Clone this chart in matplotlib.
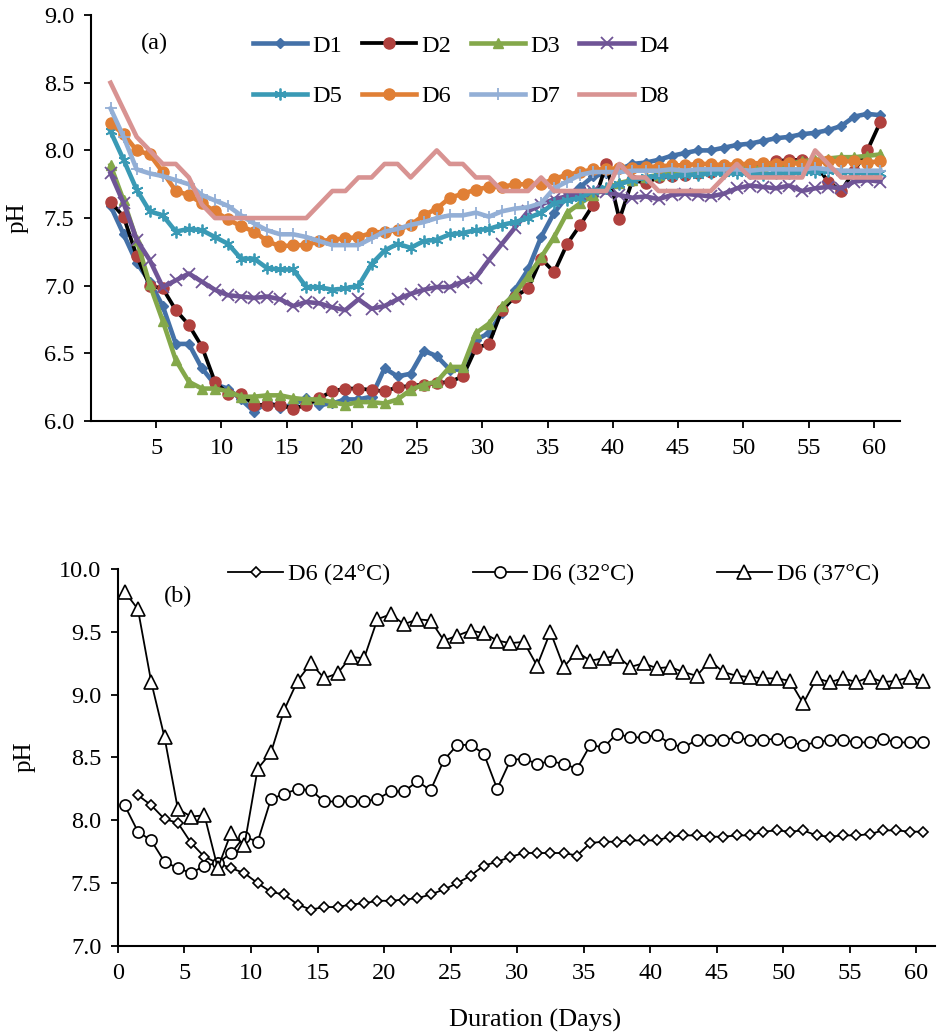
import numpy as np
import matplotlib
matplotlib.use('Agg')
import matplotlib.pyplot as plt

plt.rcParams['font.family'] = ['Liberation Serif', 'DejaVu Serif']

# ---- panel (a): pH of digesters D1..D8, days 1..60 ----
days_a = np.arange(1, 61)

d1 = [7.59, 7.38, 7.17, 7.03, 6.85, 6.57, 6.57, 6.39, 6.27, 6.24,
      6.16, 6.07, 6.14, 6.10, 6.12, 6.17, 6.12, 6.13, 6.16, 6.16,
      6.18, 6.39, 6.33, 6.35, 6.52, 6.48, 6.38, 6.38, 6.60, 6.65,
      6.80, 6.97, 7.12, 7.36, 7.54, 7.66, 7.73, 7.81, 7.83, 7.86,
      7.90, 7.91, 7.93, 7.96, 7.98, 8.00, 8.00, 8.02, 8.04, 8.05,
      8.07, 8.09, 8.10, 8.12, 8.13, 8.15, 8.18, 8.25, 8.27, 8.26]
d2 = [7.62, 7.51, 7.22, 7.00, 6.98, 6.82, 6.71, 6.55, 6.29, 6.20,
      6.20, 6.12, 6.12, 6.12, 6.09, 6.12, 6.17, 6.22, 6.24, 6.24,
      6.23, 6.22, 6.25, 6.26, 6.27, 6.28, 6.29, 6.33, 6.54, 6.57,
      6.82, 6.92, 6.98, 7.20, 7.10, 7.31, 7.45, 7.60, 7.90, 7.49,
      7.78, 7.76, 7.80, 7.81, 7.82, 7.83, 7.84, 7.85, 7.86, 7.87,
      7.88, 7.92, 7.93, 7.93, 7.90, 7.77, 7.70, 7.85, 8.00, 8.21]
d3 = [7.89, 7.63, 7.34, 7.01, 6.74, 6.45, 6.29, 6.24, 6.24, 6.22,
      6.18, 6.18, 6.19, 6.19, 6.17, 6.16, 6.16, 6.14, 6.12, 6.14,
      6.14, 6.13, 6.16, 6.23, 6.27, 6.29, 6.40, 6.40, 6.65, 6.72,
      6.85, 6.94, 7.07, 7.21, 7.36, 7.54, 7.61, 7.67, 7.72, 7.76,
      7.78, 7.80, 7.82, 7.84, 7.85, 7.85, 7.86, 7.86, 7.86, 7.87,
      7.87, 7.88, 7.90, 7.92, 7.93, 7.94, 7.95, 7.95, 7.96, 7.97]
d4 = [7.83, 7.61, 7.34, 7.19, 6.99, 7.04, 7.09, 7.03, 6.97, 6.93,
      6.92, 6.91, 6.92, 6.90, 6.85, 6.88, 6.87, 6.84, 6.82, 6.90,
      6.83, 6.85, 6.90, 6.94, 6.97, 6.99, 6.99, 7.03, 7.06, 7.19,
      7.31, 7.43, 7.55, 7.60, 7.64, 7.66, 7.68, 7.70, 7.69, 7.67,
      7.65, 7.66, 7.64, 7.67, 7.68, 7.67, 7.66, 7.68, 7.72, 7.74,
      7.73, 7.72, 7.74, 7.70, 7.72, 7.73, 7.72, 7.77, 7.78, 7.77]
d5 = [8.14, 7.93, 7.71, 7.55, 7.52, 7.40, 7.42, 7.41, 7.36, 7.31,
      7.20, 7.20, 7.13, 7.12, 7.12, 6.99, 6.99, 6.97, 6.98, 7.00,
      7.16, 7.26, 7.31, 7.28, 7.33, 7.34, 7.38, 7.39, 7.41, 7.42,
      7.45, 7.47, 7.50, 7.54, 7.61, 7.63, 7.65, 7.70, 7.72, 7.75,
      7.78, 7.80, 7.81, 7.81, 7.82, 7.82, 7.83, 7.83, 7.83, 7.83,
      7.82, 7.83, 7.83, 7.84, 7.84, 7.85, 7.84, 7.84, 7.83, 7.83]
d6 = [8.20, 8.12, 8.00, 7.97, 7.84, 7.70, 7.67, 7.61, 7.55, 7.49,
      7.44, 7.40, 7.33, 7.29, 7.30, 7.30, 7.33, 7.34, 7.35, 7.36,
      7.39, 7.40, 7.41, 7.45, 7.52, 7.57, 7.65, 7.68, 7.71, 7.73,
      7.73, 7.75, 7.75, 7.75, 7.79, 7.82, 7.84, 7.86, 7.86, 7.87,
      7.87, 7.88, 7.88, 7.89, 7.89, 7.90, 7.90, 7.89, 7.90, 7.90,
      7.91, 7.90, 7.91, 7.90, 7.91, 7.92, 7.92, 7.92, 7.91, 7.92]
d7 = [8.31, 8.10, 7.86, 7.83, 7.81, 7.78, 7.75, 7.67, 7.63, 7.59,
      7.52, 7.46, 7.41, 7.38, 7.38, 7.36, 7.33, 7.30, 7.30, 7.30,
      7.35, 7.40, 7.42, 7.45, 7.47, 7.50, 7.52, 7.52, 7.54, 7.51,
      7.55, 7.57, 7.58, 7.61, 7.72, 7.77, 7.82, 7.84, 7.84, 7.84,
      7.85, 7.85, 7.85, 7.86, 7.85, 7.86, 7.86, 7.86, 7.86, 7.85,
      7.86, 7.86, 7.86, 7.86, 7.87, 7.86, 7.85, 7.85, 7.85, 7.85]
d8 = [8.50, 8.30, 8.10, 8.00, 7.90, 7.90, 7.80, 7.60, 7.50, 7.50,
      7.50, 7.50, 7.50, 7.50, 7.50, 7.50, 7.60, 7.70, 7.70, 7.80,
      7.80, 7.90, 7.90, 7.80, 7.90, 8.00, 7.90, 7.90, 7.80, 7.80,
      7.70, 7.70, 7.70, 7.80, 7.70, 7.70, 7.70, 7.70, 7.70, 7.90,
      7.80, 7.80, 7.70, 7.70, 7.70, 7.70, 7.70, 7.80, 7.90, 7.80,
      7.80, 7.80, 7.80, 7.80, 8.00, 7.90, 7.80, 7.80, 7.80, 7.80]

# ---- panel (b): D6 at three temperatures, days 0..60 ----
days_b = np.arange(0, 61)

t24 = [np.nan, 8.20, 8.12, 8.01, 7.98, 7.82, 7.71, 7.66, 7.62, 7.58, 7.50,
       7.43, 7.41, 7.33, 7.29, 7.31, 7.31, 7.33, 7.34, 7.36, 7.36,
       7.37, 7.38, 7.41, 7.45, 7.50, 7.56, 7.64, 7.67, 7.71, 7.74,
       7.74, 7.74, 7.74, 7.72, 7.82, 7.83, 7.83, 7.84, 7.84, 7.84,
       7.87, 7.88, 7.88, 7.87, 7.87, 7.88, 7.88, 7.91, 7.92, 7.91,
       7.92, 7.88, 7.87, 7.88, 7.88, 7.89, 7.92, 7.92, 7.91, 7.91]
t32 = [8.12, 7.91, 7.84, 7.67, 7.62, 7.58, 7.64, 7.66, 7.74, 7.87, 7.83,
       8.17, 8.21, 8.25, 8.24, 8.15, 8.15, 8.15, 8.15, 8.17, 8.23,
       8.23, 8.31, 8.24, 8.48, 8.60, 8.60, 8.53, 8.25, 8.48, 8.49,
       8.45, 8.47, 8.45, 8.41, 8.60, 8.58, 8.69, 8.66, 8.66, 8.68,
       8.61, 8.58, 8.64, 8.64, 8.64, 8.66, 8.64, 8.64, 8.65, 8.62,
       8.60, 8.62, 8.64, 8.64, 8.62, 8.62, 8.65, 8.62, 8.62, 8.62]
t37 = [9.82, 9.68, 9.10, 8.66, 8.09, 8.03, 8.04, 7.62, 7.90, 7.80, 8.41,
       8.54, 8.88, 9.11, 9.25, 9.13, 9.17, 9.30, 9.29, 9.60, 9.64,
       9.56, 9.60, 9.59, 9.43, 9.47, 9.51, 9.49, 9.43, 9.41, 9.42,
       9.23, 9.50, 9.22, 9.34, 9.27, 9.29, 9.31, 9.22, 9.25, 9.21,
       9.22, 9.18, 9.15, 9.27, 9.18, 9.15, 9.14, 9.13, 9.13, 9.11,
       8.93, 9.13, 9.10, 9.13, 9.10, 9.14, 9.10, 9.11, 9.14, 9.11]

tick_days = np.arange(5, 61, 5)
tick_days_b = np.arange(0, 61, 5)

fig = plt.figure(figsize=(9.4, 10.33), dpi=100)


def style_axes(ax):
    for s in ['top', 'right']:
        ax.spines[s].set_visible(False)
    for s in ['left', 'bottom']:
        ax.spines[s].set_linewidth(1.5)
    ax.tick_params(direction='out', length=5, width=1.3, labelsize=17.5, pad=7)


# panel (a)
ax1 = fig.add_axes([0.0968, 0.5924, 0.8606, 0.3930])
series_a = [
    ('D1', d1, dict(color='#4471A8', marker='D', ms=5.5, mfc='#4471A8', mec='#4471A8')),
    ('D2', d2, dict(color='black', marker='o', ms=8, mfc='#B0413E', mec='#B0413E')),
    ('D3', d3, dict(color='#84A84A', marker='^', ms=7.5, mfc='#84A84A', mec='#84A84A')),
    ('D4', d4, dict(color='#6F5496', marker='x', ms=8.5, mec='#6F5496', mew=1.3)),
    ('D5', d5, dict(color='#3A9AB5', marker=(6, 2, 0), ms=8.5, mec='#3A9AB5', mew=1.3)),
    ('D6', d6, dict(color='#E07F35', marker='o', ms=8, mfc='#E07F35', mec='#E07F35')),
    ('D7', d7, dict(color='#93AFD6', marker='+', ms=8.5, mec='#93AFD6', mew=1.3)),
    ('D8', d8, dict(color='#D89392')),
]
lines = {}
for name, vals, kw in series_a:
    lw = 2.7 if name == 'D2' else 3.3
    lines[name], = ax1.plot(days_a, vals, lw=lw, label=name,
                            solid_joinstyle='round', **kw)

ax1.set_xlim(-0.5, 61.5)
ax1.set_ylim(6.0, 9.0)
ax1.set_xticks(tick_days - 0.5)
ax1.set_xticklabels([str(d) for d in tick_days])
ax1.set_yticks(np.arange(6.0, 9.01, 0.5))
ax1.set_yticklabels(['%.1f' % v for v in np.arange(6.0, 9.01, 0.5)])
style_axes(ax1)
ax1.text(0.078, 0.929, '(a)', transform=ax1.transAxes, fontsize=17.5,
         ha='center', va='center')

# legend fills column by column, so interleave to get D1..D4 on the first row
leg_order = ['D1', 'D5', 'D2', 'D6', 'D3', 'D7', 'D4', 'D8']
ax1.legend([lines[n] for n in leg_order], leg_order,
           loc='upper left', bbox_to_anchor=(0.2, 0.952), ncol=4, frameon=False,
           fontsize=17.5, handlelength=2.25, handletextpad=0.2, columnspacing=0.8,
           labelspacing=1.18, borderpad=0, borderaxespad=0, numpoints=1)
fig.text(18 / 940, 1 - 218 / 1033, 'pH', rotation=90, fontsize=18,
         ha='center', va='center')

# panel (b)
ax2 = fig.add_axes([0.1255, 0.0842, 0.8691, 0.3650])
ax2.plot(days_b, t24, color='black', lw=1.3, marker='D', ms=5.5, mfc='white',
         mec='black', mew=1.2, label='D6 (24°C)')
ax2.plot(days_b, t32, color='black', lw=1.3, marker='o', ms=8, mfc='white',
         mec='black', mew=1.2, label='D6 (32°C)')
ax2.plot(days_b, t37, color='black', lw=1.3, marker='^', ms=10, mfc='white',
         mec='black', mew=1.2, label='D6 (37°C)')
ax2.set_xlim(-0.5, 60.9)
ax2.set_ylim(7.0, 10.0)
ax2.set_xticks(tick_days_b - 0.5)
ax2.set_xticklabels([str(d) for d in tick_days_b])
ax2.set_yticks(np.arange(7.0, 10.01, 0.5))
ax2.set_yticklabels(['%.1f' % v for v in np.arange(7.0, 10.01, 0.5)])
style_axes(ax2)
ax2.text(0.073, 0.926, '(b)', transform=ax2.transAxes, fontsize=17.5,
         ha='center', va='center')
ax2.legend(loc='upper left', bbox_to_anchor=(0.135, 1.015), ncol=3, frameon=False,
           fontsize=17.5, handlelength=2.25, handletextpad=0.2, columnspacing=3.4,
           borderpad=0, borderaxespad=0, numpoints=1)
fig.text(25 / 940, 1 - 757 / 1033, 'pH', rotation=90, fontsize=18,
         ha='center', va='center')
fig.text(535 / 940, 1 - 1020 / 1033, 'Duration (Days)', fontsize=19,
         ha='center', va='center')

fig.savefig('out.png', dpi=100, facecolor='white')
